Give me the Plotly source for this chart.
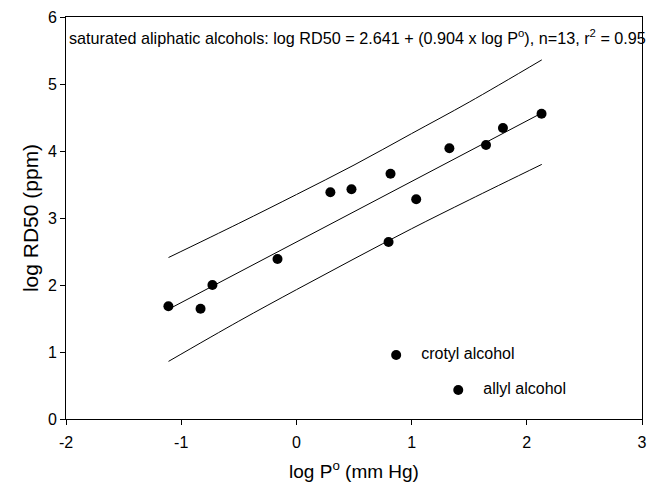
import plotly.graph_objects as go

# Saturated aliphatic alcohols: log vapour pressure vs log RD50
log_p = [-1.111, -0.832, -0.729, -0.164, 0.295, 0.478, 0.817, 1.040, 0.800,
         1.328, 1.646, 1.793, 2.128]
log_rd50 = [1.682, 1.646, 2.000, 2.388, 3.384, 3.428, 3.661, 3.279, 2.642,
            4.040, 4.090, 4.343, 4.557]

# Unsaturated alcohols plotted separately with labels
unsat_names = ["crotyl alcohol", "allyl alcohol"]
unsat_log_p = [0.866, 1.405]
unsat_log_rd50 = [0.955, 0.433]

# Regression line end points and prediction band
fit_x = [-1.11, 2.13]
fit_y = [1.638, 4.567]
band_x = [-1.11, -0.5, 0.0, 0.5, 1.0, 1.5, 2.13]
band_upper = [2.41, 2.92, 3.35, 3.79, 4.26, 4.73, 5.36]
band_lower = [0.86, 1.46, 1.93, 2.39, 2.84, 3.27, 3.80]

x_ticks = [-2, -1, 0, 1, 2, 3]
x_tick_text = ["-2", "-1", "0", "1", "2", "3"]
y_ticks = [0, 1, 2, 3, 4, 5, 6]

FONT = "Liberation Sans, Arial, sans-serif"

fig = go.Figure()
line_style = dict(color="black", width=1)
fig.add_trace(go.Scatter(x=band_x, y=band_upper, mode="lines",
                         line=dict(shape="spline", **line_style)))
fig.add_trace(go.Scatter(x=band_x, y=band_lower, mode="lines",
                         line=dict(shape="spline", **line_style)))
fig.add_trace(go.Scatter(x=fit_x, y=fit_y, mode="lines", line=line_style))
fig.add_trace(go.Scatter(x=log_p, y=log_rd50, mode="markers",
                         marker=dict(color="black", size=10)))
fig.add_trace(go.Scatter(x=unsat_log_p, y=unsat_log_rd50, mode="markers+text",
                         marker=dict(color="black", size=10),
                         text=["    " + n for n in unsat_names],
                         textposition="middle right",
                         textfont=dict(family=FONT, size=16, color="black")))

fig.add_annotation(
    x=0, y=1, xref="paper", yref="paper", xanchor="left", yanchor="top",
    xshift=1, yshift=-8, showarrow=False,
    text="saturated aliphatic alcohols: log RD50 = 2.641 + (0.904 x log P<sup>o</sup>), n=13, r<sup>2</sup> = 0.95",
    font=dict(family=FONT, size=16.2, color="black"),
)

axis_common = dict(
    showgrid=False, zeroline=False, showline=True, linecolor="black",
    linewidth=1, mirror=True, ticks="outside", ticklen=5, tickwidth=1,
    tickcolor="black", tickfont=dict(family=FONT, size=16, color="black"),
)
fig.update_xaxes(range=[-2, 3], tickvals=x_ticks, ticktext=x_tick_text,
                 ticklabelstandoff=4,
                 title=dict(text="log P<sup>o</sup> (mm Hg)",
                            font=dict(family=FONT, size=19, color="black"),
                            standoff=14),
                 **axis_common)
fig.update_yaxes(range=[0, 6], tickvals=y_ticks,
                 title=dict(text="log RD50 (ppm)",
                            font=dict(family=FONT, size=21, color="black"),
                            standoff=3),
                 **axis_common)

fig.update_layout(
    width=652, height=489, showlegend=False,
    plot_bgcolor="white", paper_bgcolor="white",
    margin=dict(l=66, r=5, t=17, b=70),
    font=dict(family=FONT, color="black"),
)

fig.write_html("out.html")
